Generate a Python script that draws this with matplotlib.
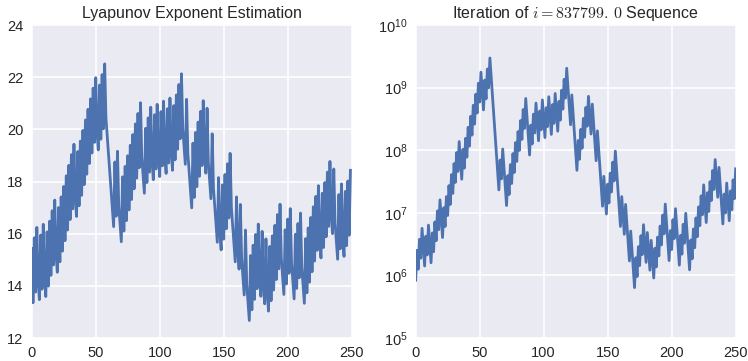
import matplotlib

matplotlib.use("Agg")

import matplotlib.pyplot as plt
import numpy as np
from matplotlib.ticker import LogLocator, NullLocator

# Collatz orbit of 837799, steps 0..250
orbit = [
    837799, 2513398, 1256699, 3770098, 1885049, 5655148, 2827574, 1413787,
    4241362, 2120681, 6362044, 3181022, 1590511, 4771534, 2385767, 7157302,
    3578651, 10735954, 5367977, 16103932, 8051966, 4025983, 12077950, 6038975,
    18116926, 9058463, 27175390, 13587695, 40763086, 20381543, 61144630, 30572315,
    91716946, 45858473, 137575420, 68787710, 34393855, 103181566, 51590783, 154772350,
    77386175, 232158526, 116079263, 348237790, 174118895, 522356686, 261178343, 783535030,
    391767515, 1175302546, 587651273, 1762953820, 881476910, 440738455, 1322215366, 661107683,
    1983323050, 991661525, 2974984576, 1487492288, 743746144, 371873072, 185936536, 92968268,
    46484134, 23242067, 69726202, 34863101, 104589304, 52294652, 26147326, 13073663,
    39220990, 19610495, 58831486, 29415743, 88247230, 44123615, 132370846, 66185423,
    198556270, 99278135, 297834406, 148917203, 446751610, 223375805, 670127416, 335063708,
    167531854, 83765927, 251297782, 125648891, 376946674, 188473337, 565420012, 282710006,
    141355003, 424065010, 212032505, 636097516, 318048758, 159024379, 477073138, 238536569,
    715609708, 357804854, 178902427, 536707282, 268353641, 805060924, 402530462, 201265231,
    603795694, 301897847, 905693542, 452846771, 1358540314, 679270157, 2037810472, 1018905236,
    509452618, 254726309, 764178928, 382089464, 191044732, 95522366, 47761183, 143283550,
    71641775, 214925326, 107462663, 322387990, 161193995, 483581986, 241790993, 725372980,
    362686490, 181343245, 544029736, 272014868, 136007434, 68003717, 204011152, 102005576,
    51002788, 25501394, 12750697, 38252092, 19126046, 9563023, 28689070, 14344535,
    43033606, 21516803, 64550410, 32275205, 96825616, 48412808, 24206404, 12103202,
    6051601, 18154804, 9077402, 4538701, 13616104, 6808052, 3404026, 1702013,
    5106040, 2553020, 1276510, 638255, 1914766, 957383, 2872150, 1436075,
    4308226, 2154113, 6462340, 3231170, 1615585, 4846756, 2423378, 1211689,
    3635068, 1817534, 908767, 2726302, 1363151, 4089454, 2044727, 6134182,
    3067091, 9201274, 4600637, 13801912, 6900956, 3450478, 1725239, 5175718,
    2587859, 7763578, 3881789, 11645368, 5822684, 2911342, 1455671, 4367014,
    2183507, 6550522, 3275261, 9825784, 4912892, 2456446, 1228223, 3684670,
    1842335, 5527006, 2763503, 8290510, 4145255, 12435766, 6217883, 18653650,
    9326825, 27980476, 13990238, 6995119, 20985358, 10492679, 31478038, 15739019,
    47217058, 23608529, 70825588, 35412794, 17706397, 53119192, 26559596, 13279798,
    6639899, 19919698, 9959849, 29879548, 14939774, 7469887, 22409662, 11204831,
    33614494, 16807247, 50421742,
]

# per-step Lyapunov estimate, steps 0..249
lyapunov = [
    15.43, 13.35, 15.84, 13.76, 16.24, 14.16, 13.47, 15.95, 13.87, 16.36, 14.28, 13.59, 16.07, 13.99, 16.48,
    14.40, 16.88, 14.80, 17.29, 15.21, 14.52, 17.00, 14.92, 17.41, 15.33, 17.81, 15.73, 18.22, 16.14, 18.62,
    16.54, 19.03, 16.95, 19.43, 17.35, 16.66, 19.15, 17.07, 19.55, 17.47, 19.96, 17.88, 20.36, 18.28, 20.77,
    18.69, 21.17, 19.09, 21.58, 19.50, 21.98, 19.90, 19.21, 21.70, 19.62, 22.10, 20.02, 22.51, 20.43, 19.73,
    19.04, 18.35, 17.65, 16.96, 16.27, 18.75, 16.67, 19.16, 17.08, 16.39, 15.69, 18.18, 16.10, 18.58, 16.50,
    18.99, 16.91, 19.39, 17.31, 19.80, 17.72, 20.21, 18.13, 20.61, 18.53, 21.02, 18.94, 18.24, 17.55, 20.04,
    17.96, 20.44, 18.36, 20.85, 18.77, 18.07, 20.56, 18.48, 20.96, 18.88, 18.19, 20.68, 18.60, 21.08, 19.00,
    18.31, 20.79, 18.71, 21.20, 19.12, 18.43, 20.91, 18.83, 21.32, 19.24, 21.72, 19.64, 22.13, 20.05, 19.36,
    18.66, 21.15, 19.07, 18.37, 17.68, 16.99, 19.47, 17.39, 19.88, 17.80, 20.28, 18.20, 20.69, 18.61, 21.10,
    19.02, 18.32, 20.81, 18.73, 18.04, 17.34, 19.83, 17.75, 17.05, 16.36, 15.67, 18.15, 16.07, 15.38, 17.87,
    15.79, 18.27, 16.19, 18.68, 16.60, 19.08, 17.00, 16.31, 15.62, 14.92, 17.41, 15.33, 14.64, 17.12, 15.04,
    14.35, 13.65, 16.14, 14.06, 13.37, 12.67, 15.16, 13.08, 15.56, 13.48, 15.97, 13.89, 16.37, 14.30, 13.60,
    16.09, 14.01, 13.31, 15.80, 13.72, 13.03, 15.51, 13.43, 15.92, 13.84, 16.32, 14.24, 16.73, 14.65, 17.13,
    15.05, 14.36, 13.67, 16.15, 14.07, 16.56, 14.48, 16.96, 14.88, 14.19, 13.50, 15.98, 13.90, 16.39, 14.31,
    16.79, 14.71, 14.02, 13.33, 15.81, 13.73, 16.22, 14.14, 16.62, 14.54, 17.03, 14.95, 17.43, 15.36, 17.84,
    15.76, 15.07, 17.55, 15.47, 17.96, 15.88, 18.36, 16.28, 18.77, 16.69, 16.00, 18.48, 16.40, 15.71, 15.02,
    17.50, 15.42, 17.91, 15.83, 15.13, 17.62, 15.54, 18.02, 15.94, 18.43,
]

BLUE = "#4C72B0"

plt.rcParams.update({
    "font.family": ["Liberation Sans", "DejaVu Sans"],
    "mathtext.fontset": "cm",
    "axes.facecolor": "#EAEAF2",
    "axes.edgecolor": "white",
    "axes.grid": True,
    "grid.color": "white",
    "grid.linewidth": 1.2,
    "axes.axisbelow": True,
    "xtick.major.size": 0,
    "ytick.major.size": 0,
    "xtick.minor.size": 0,
    "ytick.minor.size": 0,
    "xtick.labelsize": 10.5,
    "ytick.labelsize": 10.5,
    "xtick.color": "#262626",
    "ytick.color": "#262626",
    "text.color": "#262626",
})

fig = plt.figure(figsize=(7.48, 3.61), dpi=100)
ax1 = fig.add_axes([0.0424, 0.0637, 0.4278, 0.867])
ax2 = fig.add_axes([0.5557, 0.0637, 0.4278, 0.867])

for ax in (ax1, ax2):
    for sp in ax.spines.values():
        sp.set_visible(False)
    ax.tick_params(axis="both", which="both", pad=6)

ax1.plot(np.arange(len(lyapunov)), lyapunov, color=BLUE, lw=2.0)
ax1.set_xlim(0, 250)
ax1.set_ylim(12, 24)
ax1.set_xticks(range(0, 251, 50))
ax1.set_yticks(range(12, 25, 2))
ax1.set_title("Lyapunov Exponent Estimation", fontsize=11.5, pad=5)

ax2.semilogy(np.arange(len(orbit)), orbit, color=BLUE, lw=2.0)
ax2.set_xlim(0, 250)
ax2.set_ylim(1e5, 1e10)
ax2.set_xticks(range(0, 251, 50))
ax2.yaxis.set_major_locator(LogLocator(base=10, numticks=10))
ax2.yaxis.set_minor_locator(NullLocator())
ax2.set_title(r"Iteration of $i=837799.\,0$ Sequence", fontsize=11.5, pad=5)

fig.savefig("out.png", dpi=100)
